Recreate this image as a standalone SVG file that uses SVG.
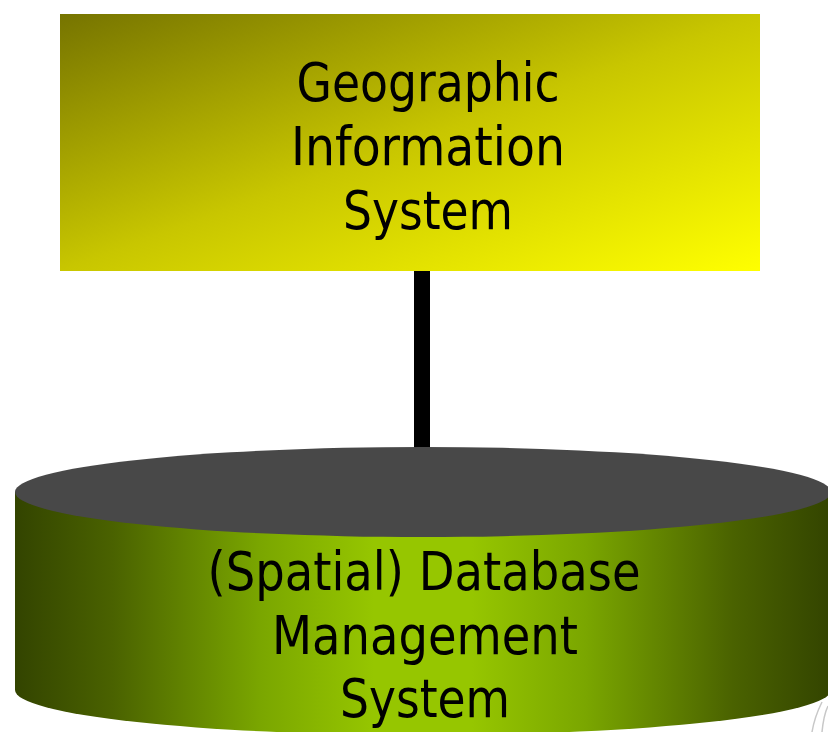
<svg xmlns="http://www.w3.org/2000/svg" width="828" height="732" viewBox="0 0 828 732">
<style>
.lbl{font-family:"DejaVu Sans Condensed","DejaVu Sans",sans-serif;font-size:54px;fill:#000;text-anchor:middle}
</style>
<defs>
<linearGradient id="gRect" x1="0" y1="0" x2="1" y2="1">
<stop offset="0" stop-color="#767400"/>
<stop offset="0.5" stop-color="#c8c600"/>
<stop offset="1" stop-color="#ffff00"/>
</linearGradient>
<linearGradient id="gCyl" x1="0" y1="0" x2="1" y2="0">
<stop offset="0" stop-color="#334400"/>
<stop offset="0.12" stop-color="#4a6200"/>
<stop offset="0.3" stop-color="#7aa600"/>
<stop offset="0.44" stop-color="#96c600"/>
<stop offset="0.56" stop-color="#96c600"/>
<stop offset="0.7" stop-color="#7aa600"/>
<stop offset="0.88" stop-color="#4a6200"/>
<stop offset="1" stop-color="#334400"/>
</linearGradient>
</defs>
<rect width="828" height="732" fill="#fff"/>
<g fill="none" stroke="#c8c8c8" stroke-width="1.5">
<path d="M812 732 C814 720 818 710 822 702"/>
<path d="M822 732 C823 722 825 712 828 706"/>
</g>
<g id="connectors">
<rect x="414" y="270" width="16" height="180" fill="#000"/>
</g>
<g id="gis">
<rect x="60" y="14" width="700" height="257" fill="url(#gRect)"/>
<text class="lbl" x="428" y="101" textLength="263" lengthAdjust="spacingAndGlyphs">Geographic</text>
<text class="lbl" x="428" y="165" textLength="274" lengthAdjust="spacingAndGlyphs">Information</text>
<text class="lbl" x="428" y="229" textLength="170" lengthAdjust="spacingAndGlyphs">System</text>
</g>
<g id="dbms">
<path d="M15 492 L15 690 A408 45 0 0 0 831 690 L831 492 Z" fill="url(#gCyl)"/>
<ellipse cx="423" cy="492" rx="408" ry="45" fill="#484848"/>
<text class="lbl" x="424" y="590" textLength="433" lengthAdjust="spacingAndGlyphs">(Spatial) Database</text>
<text class="lbl" x="425" y="654" textLength="306" lengthAdjust="spacingAndGlyphs">Management</text>
<text class="lbl" x="425" y="717" textLength="170" lengthAdjust="spacingAndGlyphs">System</text>
</g>
</svg>
